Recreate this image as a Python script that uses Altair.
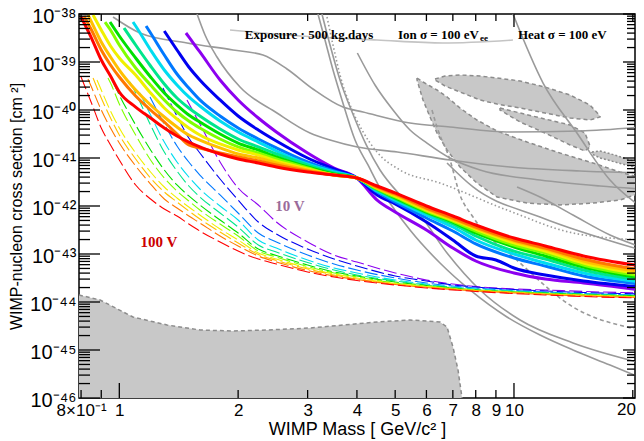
import altair as alt
import pandas as pd

# ---------------- data: (WIMP mass [GeV/c^2], cross section [cm^2]) ----------------
# thick rainbow curves (solid)
red_solid = [(0.8, 8.66e-39), (0.85, 3.16e-39), (0.9, 1.10e-39), (0.95, 5.11e-40), (1.0, 2.37e-40), (1.1, 1.15e-40), (1.2, 6.81e-41), (1.3, 4.22e-41), (1.4, 2.87e-41), (1.5, 2.15e-41), (1.6, 1.70e-41), (1.8, 1.21e-41), (2.0, 9.53e-42), (2.25, 7.87e-42), (2.5, 6.49e-42), (3.0, 5.11e-42), (3.5, 4.42e-42), (4.0, 3.83e-42), (4.5, 2.61e-42), (5.0, 1.87e-42), (6.0, 1.0e-42), (7.0, 6.19e-43), (8.0, 4.02e-43), (10.0, 2.15e-43), (12.0, 1.47e-43), (15.0, 9.08e-44), (21.0, 5.62e-44)]
orange_solid = [(0.814, 9.08e-39), (0.85, 4.64e-39), (0.9, 1.78e-39), (0.95, 8.66e-40), (1.0, 4.87e-40), (1.1, 1.96e-40), (1.2, 1.0e-40), (1.3, 5.62e-41), (1.4, 3.16e-41), (1.5, 1.87e-41), (1.6, 1.62e-41), (1.8, 1.27e-41), (2.0, 1.05e-41), (2.25, 8.66e-42), (2.5, 7.15e-42), (3.0, 5.36e-42), (3.5, 4.42e-42), (4.0, 3.83e-42), (4.5, 2.49e-42), (5.0, 1.78e-42), (6.0, 9.08e-43), (7.0, 5.62e-43), (8.0, 3.65e-43), (10.0, 1.96e-43), (12.0, 1.33e-43), (15.0, 7.87e-44), (21.0, 4.64e-44)]
gold_solid = [(0.833, 9.53e-39), (0.85, 6.81e-39), (0.9, 2.61e-39), (0.95, 1.27e-39), (1.0, 6.81e-40), (1.1, 2.61e-40), (1.2, 1.27e-40), (1.3, 7.15e-41), (1.4, 4.42e-41), (1.5, 3.01e-41), (1.6, 2.37e-41), (1.8, 1.62e-41), (2.0, 1.21e-41), (2.25, 1.0e-41), (2.5, 7.87e-42), (3.0, 5.62e-42), (3.5, 4.42e-42), (4.0, 3.83e-42), (4.5, 2.37e-42), (5.0, 1.70e-42), (6.0, 8.66e-43), (7.0, 5.36e-43), (8.0, 3.48e-43), (10.0, 1.87e-43), (12.0, 1.27e-43), (15.0, 7.15e-44), (21.0, 4.22e-44)]
yellow_solid = [(0.858, 9.53e-39), (0.9, 4.64e-39), (0.95, 2.15e-39), (1.0, 1.21e-39), (1.1, 5.36e-40), (1.2, 2.26e-40), (1.3, 1.10e-40), (1.4, 6.49e-41), (1.5, 4.22e-41), (1.6, 3.01e-41), (1.8, 1.96e-41), (2.0, 1.47e-41), (2.25, 1.15e-41), (2.5, 8.66e-42), (3.0, 5.90e-42), (3.5, 4.42e-42), (4.0, 3.83e-42), (4.5, 2.37e-42), (5.0, 1.62e-42), (6.0, 8.25e-43), (7.0, 5.11e-43), (8.0, 3.32e-43), (10.0, 1.70e-43), (12.0, 1.15e-43), (15.0, 6.49e-44), (21.0, 3.83e-44)]
chartreuse_solid = [(0.92, 6.81e-39), (0.95, 4.64e-39), (1.0, 2.26e-39), (1.1, 7.50e-40), (1.2, 3.32e-40), (1.3, 1.62e-40), (1.4, 9.08e-41), (1.5, 5.90e-41), (1.6, 4.22e-41), (1.8, 2.49e-41), (2.0, 1.70e-41), (2.25, 1.27e-41), (2.5, 9.53e-42), (3.0, 6.19e-42), (3.5, 4.42e-42), (4.0, 3.83e-42), (4.5, 2.26e-42), (5.0, 1.54e-42), (6.0, 7.87e-43), (7.0, 4.87e-43), (8.0, 3.01e-43), (10.0, 1.54e-43), (12.0, 1.05e-43), (15.0, 5.90e-44), (21.0, 3.48e-44)]
green_solid = [(0.947, 6.81e-39), (1.0, 3.48e-39), (1.1, 1.21e-39), (1.2, 4.87e-40), (1.3, 2.26e-40), (1.4, 1.27e-40), (1.5, 7.87e-41), (1.6, 5.62e-41), (1.8, 3.16e-41), (2.0, 2.05e-41), (2.25, 1.47e-41), (2.5, 1.05e-41), (3.0, 6.49e-42), (3.5, 4.64e-42), (4.0, 3.83e-42), (4.5, 2.26e-42), (5.0, 1.47e-42), (6.0, 7.50e-43), (7.0, 4.64e-43), (8.0, 2.74e-43), (10.0, 1.40e-43), (12.0, 9.08e-44), (15.0, 5.36e-44), (21.0, 3.16e-44)]
spring_solid = [(1.028, 5.11e-39), (1.1, 2.26e-39), (1.2, 8.25e-40), (1.3, 3.48e-40), (1.4, 1.78e-40), (1.5, 1.10e-40), (1.6, 7.50e-41), (1.8, 4.02e-41), (2.0, 2.49e-41), (2.25, 1.70e-41), (2.5, 1.21e-41), (3.0, 7.15e-42), (3.5, 4.87e-42), (4.0, 3.83e-42), (4.5, 2.15e-42), (5.0, 1.40e-42), (6.0, 7.15e-43), (7.0, 4.22e-43), (8.0, 2.37e-43), (10.0, 1.15e-43), (12.0, 7.87e-44), (15.0, 4.64e-44), (21.0, 2.87e-44)]
cyan_solid = [(1.083, 6.81e-39), (1.1, 5.62e-39), (1.2, 1.78e-39), (1.3, 6.81e-40), (1.4, 3.32e-40), (1.5, 1.87e-40), (1.6, 1.21e-40), (1.8, 5.90e-41), (2.0, 3.48e-41), (2.25, 2.15e-41), (2.5, 1.40e-41), (3.0, 7.50e-42), (3.5, 5.11e-42), (4.0, 3.83e-42), (4.5, 2.05e-42), (5.0, 1.33e-42), (6.0, 6.49e-43), (7.0, 3.65e-43), (8.0, 1.96e-43), (10.0, 1.0e-43), (12.0, 6.49e-44), (15.0, 4.02e-44), (21.0, 2.61e-44)]
azure_solid = [(1.169, 5.62e-39), (1.2, 4.02e-39), (1.3, 1.40e-39), (1.4, 5.62e-40), (1.5, 2.87e-40), (1.6, 1.62e-40), (1.8, 7.50e-41), (2.0, 4.22e-41), (2.25, 2.49e-41), (2.5, 1.62e-41), (3.0, 8.25e-42), (3.5, 5.36e-42), (4.0, 3.83e-42), (4.5, 1.96e-42), (5.0, 1.21e-42), (6.0, 5.62e-43), (7.0, 3.01e-43), (8.0, 1.62e-43), (10.0, 8.25e-44), (12.0, 5.62e-44), (15.0, 3.48e-44), (21.0, 2.37e-44)]
blue_solid = [(1.30, 4.42e-39), (1.4, 1.78e-39), (1.5, 7.87e-40), (1.6, 4.22e-40), (1.8, 1.62e-40), (2.0, 7.50e-41), (2.25, 3.83e-41), (2.5, 2.26e-41), (3.0, 1.0e-41), (3.5, 5.90e-42), (4.0, 3.83e-42), (4.5, 1.70e-42), (5.0, 1.10e-42), (6.0, 4.64e-43), (7.0, 1.96e-43), (8.0, 9.08e-44), (9.0, 7.50e-44), (10.0, 5.11e-44), (12.0, 3.65e-44), (15.0, 2.74e-44), (21.0, 2.05e-44)]
violet_solid = [(1.475, 4.02e-39), (1.5, 3.32e-39), (1.6, 1.62e-39), (1.8, 4.22e-40), (2.0, 1.62e-40), (2.25, 6.81e-41), (2.5, 3.48e-41), (3.0, 1.27e-41), (3.5, 6.19e-42), (4.0, 3.83e-42), (4.5, 1.33e-42), (5.0, 7.50e-43), (6.0, 3.16e-43), (7.0, 1.33e-43), (8.0, 7.15e-44), (10.0, 4.02e-44), (12.0, 3.01e-44), (15.0, 2.49e-44), (21.0, 1.78e-44)]

# thin dashed rainbow curves
red_dash = [(0.8, 4.87e-40), (0.85, 1.40e-40), (0.9, 4.22e-41), (0.95, 1.87e-41), (1.0, 9.08e-42), (1.1, 2.74e-42), (1.2, 1.40e-42), (1.3, 8.66e-43), (1.4, 6.19e-43), (1.5, 4.22e-43), (1.6, 3.01e-43), (1.8, 1.78e-43), (2.0, 1.15e-43), (2.25, 7.87e-44), (2.5, 6.19e-44), (3.0, 4.22e-44), (3.5, 3.32e-44), (4.0, 2.80e-44), (5.0, 2.26e-44), (6.0, 1.96e-44), (7.0, 1.78e-44), (8.0, 1.66e-44), (10.0, 1.50e-44), (12.0, 1.40e-44), (15.0, 1.30e-44), (21.0, 1.21e-44)]
orange_dash = [(0.833, 4.42e-40), (0.85, 3.01e-40), (0.9, 1.0e-40), (0.95, 4.22e-41), (1.0, 2.05e-41), (1.1, 6.81e-42), (1.2, 2.87e-42), (1.3, 1.40e-42), (1.4, 9.08e-43), (1.5, 6.19e-43), (1.6, 4.42e-43), (1.8, 2.37e-43), (2.0, 1.47e-43), (2.25, 9.08e-44), (2.5, 6.81e-44), (3.0, 4.53e-44), (3.5, 3.48e-44), (4.0, 2.94e-44), (5.0, 2.32e-44), (6.0, 2.0e-44), (7.0, 1.82e-44), (8.0, 1.70e-44), (10.0, 1.54e-44), (12.0, 1.43e-44), (15.0, 1.33e-44), (21.0, 1.24e-44)]
gold_dash = [(0.858, 4.64e-40), (0.9, 1.78e-40), (0.95, 6.81e-41), (1.0, 3.01e-41), (1.1, 9.53e-42), (1.2, 3.83e-42), (1.3, 1.96e-42), (1.4, 1.21e-42), (1.5, 7.87e-43), (1.6, 5.36e-43), (1.8, 2.87e-43), (2.0, 1.70e-43), (2.25, 9.76e-44), (2.5, 7.32e-44), (3.0, 4.87e-44), (3.5, 3.65e-44), (4.0, 3.01e-44), (5.0, 2.37e-44), (6.0, 2.05e-44), (7.0, 1.87e-44), (8.0, 1.74e-44), (10.0, 1.58e-44), (12.0, 1.47e-44), (15.0, 1.37e-44), (21.0, 1.27e-44)]
yellow_dash = [(0.878, 4.22e-40), (0.9, 2.61e-40), (0.95, 9.53e-41), (1.0, 4.22e-41), (1.1, 1.27e-41), (1.2, 5.11e-42), (1.3, 2.49e-42), (1.4, 1.47e-42), (1.5, 9.53e-43), (1.6, 6.49e-43), (1.8, 3.32e-43), (2.0, 1.96e-43), (2.25, 1.05e-43), (2.5, 7.87e-44), (3.0, 5.11e-44), (3.5, 3.83e-44), (4.0, 3.16e-44), (5.0, 2.43e-44), (6.0, 2.10e-44), (7.0, 1.87e-44), (8.0, 1.74e-44), (10.0, 1.58e-44), (12.0, 1.47e-44), (15.0, 1.40e-44), (21.0, 1.27e-44)]
chartreuse_dash = [(0.936, 4.64e-40), (0.95, 3.65e-40), (1.0, 1.33e-40), (1.1, 3.01e-41), (1.2, 9.08e-42), (1.3, 3.83e-42), (1.4, 2.05e-42), (1.5, 1.27e-42), (1.6, 8.25e-43), (1.8, 4.22e-43), (2.0, 2.37e-43), (2.25, 1.15e-43), (2.5, 8.66e-44), (3.0, 5.49e-44), (3.5, 4.02e-44), (4.0, 3.32e-44), (5.0, 2.49e-44), (6.0, 2.15e-44), (7.0, 1.92e-44), (8.0, 1.78e-44), (10.0, 1.62e-44), (12.0, 1.50e-44), (15.0, 1.40e-44), (21.0, 1.30e-44)]
green_dash = [(0.964, 3.83e-40), (1.0, 2.05e-40), (1.1, 4.87e-41), (1.2, 1.47e-41), (1.3, 5.62e-42), (1.4, 2.74e-42), (1.5, 1.62e-42), (1.6, 1.05e-42), (1.8, 5.11e-43), (2.0, 2.74e-43), (2.25, 1.27e-43), (2.5, 9.31e-44), (3.0, 5.90e-44), (3.5, 4.22e-44), (4.0, 3.48e-44), (5.0, 2.61e-44), (6.0, 2.21e-44), (7.0, 1.96e-44), (8.0, 1.78e-44), (10.0, 1.62e-44), (12.0, 1.54e-44), (15.0, 1.43e-44), (21.0, 1.33e-44)]
spring_dash = [(1.064, 3.83e-40), (1.1, 2.26e-40), (1.2, 4.87e-41), (1.3, 1.33e-41), (1.4, 5.36e-42), (1.5, 2.61e-42), (1.6, 1.54e-42), (1.8, 7.15e-43), (2.0, 3.65e-43), (2.25, 1.54e-43), (2.5, 1.10e-43), (3.0, 6.65e-44), (3.5, 4.64e-44), (4.0, 3.65e-44), (5.0, 2.74e-44), (6.0, 2.26e-44), (7.0, 2.0e-44), (8.0, 1.82e-44), (10.0, 1.66e-44), (12.0, 1.54e-44), (15.0, 1.47e-44), (21.0, 1.33e-44)]
cyan_dash = [(1.128, 2.26e-40), (1.2, 7.87e-41), (1.3, 2.15e-41), (1.4, 8.25e-42), (1.5, 4.02e-42), (1.6, 2.26e-42), (1.8, 1.0e-42), (2.0, 5.11e-43), (2.25, 1.96e-43), (2.5, 1.33e-43), (3.0, 7.50e-44), (3.5, 5.11e-44), (4.0, 4.02e-44), (5.0, 2.87e-44), (6.0, 2.37e-44), (7.0, 2.05e-44), (8.0, 1.87e-44), (10.0, 1.70e-44), (12.0, 1.58e-44), (15.0, 1.47e-44), (21.0, 1.37e-44)]
azure_dash = [(1.196, 1.87e-40), (1.3, 5.11e-41), (1.4, 1.78e-41), (1.5, 8.25e-42), (1.6, 4.42e-42), (1.8, 1.70e-42), (2.0, 7.15e-43), (2.25, 2.74e-43), (2.5, 1.78e-43), (3.0, 9.53e-44), (3.5, 6.19e-44), (4.0, 4.64e-44), (5.0, 3.16e-44), (6.0, 2.49e-44), (7.0, 2.15e-44), (8.0, 1.96e-44), (10.0, 1.74e-44), (12.0, 1.62e-44), (15.0, 1.50e-44), (21.0, 1.40e-44)]
blue_dash = [(1.29, 2.87e-40), (1.4, 7.50e-41), (1.5, 2.61e-41), (1.6, 1.27e-41), (1.8, 3.65e-42), (2.0, 1.33e-42), (2.25, 4.64e-43), (2.5, 2.61e-43), (3.0, 1.27e-43), (3.5, 7.87e-44), (4.0, 5.62e-44), (5.0, 3.48e-44), (6.0, 2.74e-44), (7.0, 2.26e-44), (8.0, 2.05e-44), (10.0, 1.82e-44), (12.0, 1.70e-44), (15.0, 1.58e-44), (21.0, 1.47e-44)]
violet_dash = [(1.484, 1.62e-40), (1.6, 5.11e-41), (1.8, 8.25e-42), (2.0, 2.37e-42), (2.25, 1.05e-42), (2.5, 4.64e-43), (3.0, 1.78e-43), (3.5, 9.53e-44), (4.0, 6.81e-44), (5.0, 4.02e-44), (6.0, 2.87e-44), (7.0, 2.37e-44), (8.0, 2.10e-44), (10.0, 1.87e-44), (12.0, 1.78e-44), (15.0, 1.66e-44), (21.0, 1.54e-44)]

CURVE_COLORS = ["#8c00f0", "#0000f0", "#0078ff", "#00dcf0", "#00e68c", "#00e000", "#80ff00", "#f0f000", "#ffc000", "#ff7800", "#ff0000"]
SOLID = [violet_solid, blue_solid, azure_solid, cyan_solid, spring_solid, green_solid, chartreuse_solid, yellow_solid, gold_solid, orange_solid, red_solid]
DASHED = [violet_dash, blue_dash, azure_dash, cyan_dash, spring_dash, green_dash, chartreuse_dash, yellow_dash, gold_dash, orange_dash, red_dash]

# grey limits from other experiments
grey_a = [(0.964, 8.66e-39), (1.128, 4.02e-39), (1.484, 2.49e-39), (1.942, 1.78e-39), (2.312, 1.40e-39), (2.66, 7.15e-40), (3.095, 2.74e-40), (3.688, 1.15e-40), (4.145, 9.08e-41), (5.452, 5.36e-41), (6.885, 4.42e-41), (9.77, 3.48e-41), (14.70, 3.65e-41), (20.98, 4.42e-41)]
grey_b = [(1.574, 1.0e-38), (1.649, 3.65e-39), (1.768, 1.27e-39), (2.022, 3.01e-40), (2.509, 8.66e-41), (3.042, 3.32e-41), (3.419, 2.37e-41), (4.01, 1.70e-41), (5.064, 1.33e-41), (6.885, 9.08e-42), (9.77, 6.49e-42), (14.70, 5.36e-42), (20.98, 4.87e-42)]
grey_c = [(4.01, 1.54e-39), (4.445, 3.32e-40), (4.937, 1.0e-40), (5.452, 3.83e-41), (6.02, 2.05e-41), (6.885, 1.0e-41), (8.202, 5.62e-42), (11.64, 3.48e-42), (16.52, 2.61e-42), (20.98, 2.26e-42)]
grey_d = [(3.187, 1.0e-38), (3.320, 2.87e-39), (3.479, 6.81e-40), (3.666, 1.62e-40), (3.956, 2.37e-41), (4.267, 7.15e-42), (4.577, 2.37e-42), (4.99, 8.25e-43), (5.452, 3.16e-43), (6.495, 6.49e-44), (7.736, 1.78e-44), (9.60, 4.87e-45), (11.64, 2.05e-45), (14.11, 1.0e-45), (17.51, 4.87e-46), (20.98, 2.61e-46)]
grey_e = [(3.262, 1.0e-38), (3.419, 2.26e-39), (3.624, 4.22e-40), (3.916, 7.87e-41), (4.224, 1.87e-41), (4.577, 5.62e-42), (5.143, 1.70e-42), (5.779, 6.49e-43), (6.766, 1.05e-43), (8.202, 1.78e-44), (10.36, 4.22e-45), (14.11, 1.40e-45), (20.98, 5.36e-46)]
grey_f = [(9.94, 1.0e-38), (11.85, 3.65e-40), (14.44, 3.32e-41), (17.51, 3.48e-42), (20.98, 9.53e-43)]
grey_g = [(10.18, 2.49e-42), (11.64, 1.54e-42), (14.11, 6.49e-43), (17.51, 2.49e-43), (20.98, 1.40e-43)]
grey_h = [(6.766, 7.87e-42), (7.874, 2.49e-42), (11.64, 5.90e-43), (20.98, 1.21e-43)]
grey_dotted = [(3.359, 8.66e-39), (3.479, 2.26e-39), (3.624, 5.36e-40), (3.842, 1.27e-40), (4.121, 3.83e-41), (4.497, 1.33e-41), (5.143, 5.62e-42), (6.495, 3.01e-42), (9.60, 8.25e-43), (14.11, 2.74e-43), (20.98, 1.96e-43)]
grey_dashed = [(6.198, 1.0e-40), (6.381, 4.42e-41), (6.885, 9.08e-42), (7.298, 1.70e-42), (7.874, 5.90e-43), (10.36, 6.49e-44), (14.11, 7.87e-45), (19.33, 3.01e-45), (20.98, 2.61e-45)]
light_top = [(1.908, 4.64e-39), (2.870, 3.48e-39), (4.497, 2.87e-39), (6.608, 2.49e-39), (9.94, 2.87e-39)]
GREY_SOLID = [grey_a, grey_b, grey_c, grey_d, grey_e, grey_f, grey_g, grey_h]

# closed signal regions: mass, upper edge, lower edge
region_a_m = [6.308, 6.686, 7.298, 8.202, 9.057, 10.36, 11.98, 13.87, 15.58, 16.52]
region_a_hi = [4.42e-40, 5.11e-40, 5.36e-40, 5.11e-40, 4.64e-40, 4.02e-40, 3.01e-40, 2.05e-40, 1.27e-40, 7.50e-41]
region_a_lo = [4.22e-40, 3.16e-40, 2.37e-40, 1.62e-40, 1.33e-40, 1.10e-40, 8.66e-41, 6.81e-41, 6.19e-41, 7.15e-41]
region_b_m = [9.216, 10.36, 11.98, 13.87, 15.13, 15.58]
region_b_hi = [1.10e-40, 8.66e-41, 6.49e-41, 4.87e-41, 3.32e-41, 1.78e-41]
region_b_lo = [1.0e-40, 5.62e-41, 3.32e-41, 1.87e-41, 1.40e-41, 1.70e-41]
region_c_m = [5.679, 5.881, 6.127, 6.381, 6.766, 7.298, 8.058, 9.057, 10.79, 13.08, 15.85, 18.56, 20.98]
region_c_hi = [4.64e-40, 3.83e-40, 3.16e-40, 2.61e-40, 1.87e-40, 1.10e-40, 6.19e-41, 3.65e-41, 2.15e-41, 1.27e-41, 7.87e-42, 5.11e-42, 3.83e-42]
region_c_lo = [4.22e-40, 1.62e-40, 7.15e-41, 3.32e-41, 1.47e-41, 6.49e-42, 3.01e-42, 1.54e-42, 1.15e-42, 1.05e-42, 1.15e-42, 1.33e-42, 1.87e-42]
region_d_m = [15.76, 16.52, 18.03, 19.68, 20.98]
region_d_hi = [1.33e-41, 1.40e-41, 1.15e-41, 9.08e-42, 7.87e-42]
region_d_lo = [1.21e-41, 1.0e-41, 8.25e-42, 6.81e-42, 6.19e-42]
# excluded region at the bottom left
floor_m = [0.79, 0.894, 1.083, 1.321, 1.602, 1.942, 2.366, 3.042, 3.688, 4.497, 5.452, 6.495, 6.766, 7.007, 7.215, 7.385]
floor_s = [1.40e-44, 1.10e-44, 4.87e-45, 3.32e-45, 2.61e-45, 2.49e-45, 2.61e-45, 2.87e-45, 3.32e-45, 3.83e-45, 4.22e-45, 3.83e-45, 3.01e-45, 1.15e-45, 3.83e-46, 1.0e-46]

# axis ticks and labels
X_LABELS = [0.8, 1, 2, 3, 4, 5, 6, 7, 8, 9, 10]
X_EDGE_LABEL = "20"
X_MAJOR = [1, 10]
X_MINOR = [0.8, 0.9, 2, 3, 4, 5, 6, 7, 8, 9, 20]
Y_EXPONENTS = [-46, -45, -44, -43, -42, -41, -40, -39, -38]
Y_MINOR_FACTORS = [2, 3, 4, 5, 6, 7, 8, 9]

W, H = 556, 384
FONT = "Liberation Sans"

# ---------------- scales / axes ----------------
xs = alt.Scale(type="log", domain=[0.7904, 20.26], nice=False)
ys = alt.Scale(type="log", domain=[1e-46, 1e-38], nice=False)
sup = "'⁰¹²³⁴⁵⁶⁷⁸⁹'"
ne = "(-round(log(datum.value)/LN10))"
y_label_expr = (
    f"'10⁻' + substring({sup}, floor({ne}/10), floor({ne}/10)+1) + "
    f"substring({sup}, {ne}%10, {ne}%10+1)"
)
xaxis = alt.Axis(values=X_LABELS, labelExpr="datum.value < 0.85 ? '8×10⁻¹' : '' + datum.value",
                 ticks=False, tickSize=0, domain=False, grid=False, labelFlush=False, labelOverlap=False,
                 labelFont=FONT, labelFontSize=17, labelColor="black", labelPadding=4,
                 title="WIMP Mass [ GeV/c² ]", titleFont=FONT, titleFontSize=18,
                 titleFontWeight="normal", titleColor="black", titlePadding=2)
yaxis = alt.Axis(values=[10.0 ** e for e in Y_EXPONENTS], labelExpr=y_label_expr,
                 ticks=False, tickSize=0, domain=False, grid=False, labelFlush=False, labelOverlap=False,
                 labelFont=FONT, labelFontSize=20, labelColor="black", labelPadding=3,
                 labelBaseline="alphabetic", labelOffset=8,
                 title="WIMP-nucleon cross section [cm ²]", titleFont=FONT, titleFontSize=16,
                 titleFontWeight="normal", titleColor="black", titlePadding=5)
X = alt.X("m:Q", scale=xs, axis=xaxis)
Y = alt.Y("s:Q", scale=ys, axis=yaxis)


def frame(pairs):
    return pd.DataFrame({"m": [p[0] for p in pairs], "s": [p[1] for p in pairs]})


layers = []
REGIONS = [(region_a_m, region_a_hi, region_a_lo), (region_b_m, region_b_hi, region_b_lo),
           (region_c_m, region_c_hi, region_c_lo), (region_d_m, region_d_hi, region_d_lo)]

# filled signal regions
for rm, rh, rl in REGIONS:
    d = pd.DataFrame({"m": rm, "s": rh, "s2": rl})
    layers.append(alt.Chart(d).mark_area(color="#c8c8c8", clip=True).encode(x=X, y=Y, y2="s2:Q"))
d = pd.DataFrame({"m": floor_m, "s": floor_s, "s2": [1e-46] * len(floor_m)})
layers.append(alt.Chart(d).mark_area(color="#c8c8c8", clip=True).encode(x=X, y=Y, y2="s2:Q"))

# region outlines
for idx, (rm, rh, rl) in enumerate(REGIONS):
    ms = list(rm) + list(rm[::-1]) + [rm[0]]
    ss = list(rh) + list(rl[::-1]) + [rh[0]]
    d = pd.DataFrame({"m": ms, "s": ss, "o": list(range(len(ms)))})
    dash = [2, 2] if idx == 3 else [4, 3]
    layers.append(alt.Chart(d).mark_line(color="#8c8c8c", strokeWidth=1.5, strokeDash=dash, clip=True)
                  .encode(x=X, y=Y, order="o:Q"))
layers.append(alt.Chart(frame(list(zip(floor_m, floor_s)))).mark_line(
    color="#8c8c8c", strokeWidth=1.5, strokeDash=[4, 3], clip=True).encode(x=X, y=Y))

# grey curves
layers.append(alt.Chart(frame(light_top)).mark_line(color="#c4c4c4", strokeWidth=1.6, interpolate="monotone", clip=True)
              .encode(x=X, y=Y))
for g in GREY_SOLID:
    layers.append(alt.Chart(frame(g)).mark_line(color="#9a9a9a", strokeWidth=1.6, interpolate="monotone", clip=True)
                  .encode(x=X, y=Y))
layers.append(alt.Chart(frame(grey_dotted)).mark_line(color="#9a9a9a", strokeWidth=1.6, strokeDash=[1.5, 2.5],
                                                      interpolate="monotone", clip=True).encode(x=X, y=Y))
layers.append(alt.Chart(frame(grey_dashed)).mark_line(color="#9a9a9a", strokeWidth=1.6, strokeDash=[4, 3],
                                                      interpolate="monotone", clip=True).encode(x=X, y=Y))

# thin dashed rainbow
for pairs, col in zip(DASHED, CURVE_COLORS):
    layers.append(alt.Chart(frame(pairs)).mark_line(color=col, strokeWidth=1.1, strokeDash=[13, 4],
                                                    interpolate="monotone", clip=True).encode(x=X, y=Y))
# thick solid rainbow
for pairs, col in zip(SOLID, CURVE_COLORS):
    layers.append(alt.Chart(frame(pairs)).mark_line(color=col, strokeWidth=3, interpolate="monotone", clip=True)
                  .encode(x=X, y=Y))

# inner ticks
y_major = pd.DataFrame({"s": [10.0 ** e for e in Y_EXPONENTS]})
y_minor = pd.DataFrame({"s": [f * 10.0 ** e for e in Y_EXPONENTS[:-1] for f in Y_MINOR_FACTORS]})
x_major = pd.DataFrame({"m": X_MAJOR})
x_minor = pd.DataFrame({"m": X_MINOR})
tick = dict(color="black", strokeWidth=1.3)
layers += [
    alt.Chart(y_major).mark_rule(**tick).encode(y=Y, x=alt.value(0), x2=alt.value(21)),
    alt.Chart(y_minor).mark_rule(**tick).encode(y=Y, x=alt.value(0), x2=alt.value(11)),
    alt.Chart(y_major).mark_rule(**tick).encode(y=Y, x=alt.value(W - 12), x2=alt.value(W)),
    alt.Chart(y_minor).mark_rule(**tick).encode(y=Y, x=alt.value(W - 8), x2=alt.value(W)),
    alt.Chart(x_major).mark_rule(**tick).encode(x=X, y=alt.value(H), y2=alt.value(H - 15)),
    alt.Chart(x_minor).mark_rule(**tick).encode(x=X, y=alt.value(H), y2=alt.value(H - 8)),
    alt.Chart(x_major).mark_rule(**tick).encode(x=X, y=alt.value(0), y2=alt.value(13)),
    alt.Chart(x_minor).mark_rule(**tick).encode(x=X, y=alt.value(0), y2=alt.value(7)),
]
# last x label, kept inside the picture's right edge
edge = pd.DataFrame({"t": [X_EDGE_LABEL]})
layers.append(alt.Chart(edge).mark_text(align="right", baseline="top", font=FONT, fontSize=17, color="black")
              .encode(x=alt.value(W + 1), y=alt.value(H + 4), text="t:N"))

# annotations
notes = pd.DataFrame({
    "m": [2.08, 5.08, 10.23],
    "s": [3.65e-39, 3.65e-39, 3.65e-39],
    "t": ["Exposure : 500 kg.days", "Ion σ = 100 eV", "Heat σ = 100 eV"],
})
layers.append(alt.Chart(notes).mark_text(align="left", baseline="middle", font="Liberation Serif",
                                         fontWeight="bold", fontSize=13, color="black")
              .encode(x=X, y=Y, text="t:N"))
sub = pd.DataFrame({"m": [8.2], "s": [3.16e-39], "t": ["ee"]})
layers.append(alt.Chart(sub).mark_text(align="left", baseline="middle", font="Liberation Serif",
                                       fontWeight="bold", fontSize=9, color="black")
              .encode(x=X, y=Y, text="t:N"))
lab10 = pd.DataFrame({"m": [2.707], "s": [1.0e-42], "t": ["10 V"]})
layers.append(alt.Chart(lab10).mark_text(align="center", baseline="middle", font="Liberation Serif",
                                         fontWeight="bold", fontSize=15, color="#9b6b9b")
              .encode(x=X, y=Y, text="t:N"))
lab100 = pd.DataFrame({"m": [1.26], "s": [1.78e-43], "t": ["100 V"]})
layers.append(alt.Chart(lab100).mark_text(align="center", baseline="middle", font="Liberation Serif",
                                          fontWeight="bold", fontSize=15, color="#cc0000")
              .encode(x=X, y=Y, text="t:N"))

chart = alt.layer(*layers).properties(
    width=W, height=H,
    autosize=alt.AutoSizeParams(type="none"),
    padding={"left": 71, "top": 6, "right": 1, "bottom": 43},
).configure_view(stroke="black", strokeWidth=1.5)

chart.save("out.html", embed_options={"renderer": "svg", "actions": False})
